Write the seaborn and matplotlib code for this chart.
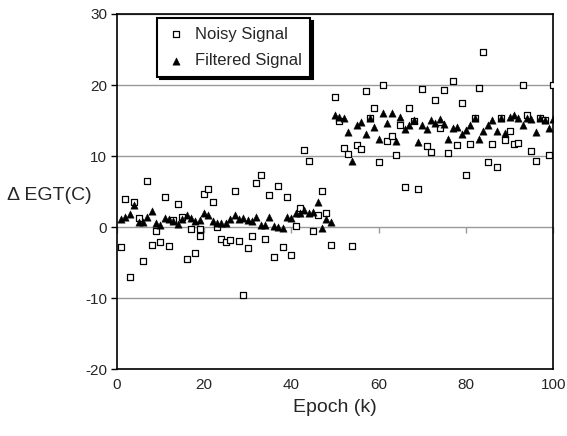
import matplotlib
matplotlib.use("Agg")
import numpy as np
import pandas as pd
import matplotlib.pyplot as plt
import seaborn as sns

# epochs (k) -- the noisy series has two readings at epoch 19
noisy_epoch = list(range(1, 20)) + [19] + list(range(20, 101))
filtered_epoch = list(range(1, 101))

noisy_signal = [
    -2.8, 4.0, -7.0, 3.5, 1.35, -4.7, 6.5, -2.5, -0.6, -2.1,
    4.2, -2.7, 1.0, 3.2, 1.4, -4.5, -0.2, -3.65, -1.3, -0.3,
    4.6, 5.3, 3.6, 0.0, -1.6, -2.15, -1.8, 5.1, -2.0, -9.6,
    -2.95, -1.3, 6.2, 7.4, -1.6, 4.5, -4.2, 5.8, -2.8, 4.2,
    -3.9, 0.1, 2.75, 10.8, 9.25, -0.5, 1.7, 5.1, 2.05, -2.5,
    18.3, 14.9, 11.2, 10.3, -2.7, 11.6, 11.0, 19.1, 15.4, 16.8,
    9.1, 20.05, 12.15, 12.85, 10.2, 14.4, 5.6, 16.7, 14.95, 5.4,
    19.4, 11.4, 10.6, 17.95, 13.9, 19.35, 10.4, 20.6, 11.5, 17.5,
    7.3, 11.7, 15.3, 19.6, 24.6, 9.2, 11.7, 8.4, 15.3, 12.2,
    13.55, 11.7, 11.9, 20.05, 15.8, 10.75, 9.25, 15.4, 15.1, 10.1,
    20.0,
]

filtered_signal = [
    1.16, 1.44, 1.87, 3.08, 0.79, 0.79, 1.49, 2.29, 0.65, 0.32,
    1.35, 1.21, 0.84, 0.42, 1.12, 1.73, 1.3, 0.88, 1.02, 2.05,
    1.73, 0.88, 0.6, 0.6, 0.6, 1.21, 1.73, 1.16, 1.3, 1.02,
    0.84, 1.49, 0.32, 0.37, 1.49, 0.18, 0.0, -0.05, 1.49, 1.26,
    1.96, 2.0, 2.43, 2.05, 2.1, 3.5, -0.05, 1.16, 0.79,
    15.75, 15.5, 15.4, 13.4, 9.3, 14.35, 14.8, 13.1, 15.4, 14.1,
    12.4, 16.0, 14.7, 16.1, 12.1, 15.5, 13.8, 14.35, 15.05, 12.0,
    14.4, 13.8, 15.05, 14.7, 15.2, 14.5, 12.4, 14.0, 14.1, 13.05,
    13.7, 14.35, 15.4, 12.4, 13.55, 14.4, 15.05, 13.5, 15.4, 13.3,
    15.5, 15.75, 15.3, 14.4, 15.4, 15.15, 13.4, 15.4, 15.05, 14.0,
    15.15,
]

x_ticks = [0, 20, 40, 60, 80, 100]
y_ticks = [-20, -10, 0, 10, 20, 30]

sns.set_style("white")
plt.rcParams["font.family"] = ["Liberation Sans", "DejaVu Sans"]
plt.rcParams["axes.unicode_minus"] = False

fig = plt.figure(figsize=(5.67, 4.36), dpi=100)
ax = fig.add_axes([0.2058, 0.153, 0.77, 0.815])

# second axis only to draw the x tick marks on the zero line
ax2 = ax.twiny()
ax2.set_xlim(0, 100)
ax2.set_xticks(x_ticks)
for sp in ax2.spines.values():
    sp.set_visible(False)
ax2.spines["bottom"].set_position(("data", 0))
ax2.xaxis.set_ticks_position("bottom")
ax2.tick_params(axis="x", direction="out", length=4, width=1, color="#999999",
                labelbottom=False, labeltop=False)
ax.set_zorder(ax2.get_zorder() + 1)
ax.patch.set_visible(False)

sns.scatterplot(x=noisy_epoch, y=noisy_signal, marker="s", s=21, color="white",
                edgecolor="black", linewidth=0.9, label="Noisy Signal", ax=ax, zorder=3)
sns.scatterplot(x=filtered_epoch, y=filtered_signal, marker="^", s=28, color="black",
                edgecolor="black", linewidth=0.3, label="Filtered Signal", ax=ax, zorder=4)

ax.set_xlim(0, 100)
ax.set_ylim(-20, 30)
ax.set_xticks(x_ticks)
ax.set_yticks(y_ticks)
ax.yaxis.grid(True, color="#999999", linewidth=1)
ax.xaxis.grid(False)
ax.set_axisbelow(True)
for sp in ax.spines.values():
    sp.set_visible(True)
    sp.set_color("black")
    sp.set_linewidth(1.2)
ax.tick_params(axis="y", direction="out", length=4, width=1, color="black",
               labelsize=11, pad=3, left=True)
ax.tick_params(axis="x", length=0, labelsize=11, pad=6)

ax.set_xlabel("Epoch (k)", fontsize=14)
ax.xaxis.set_label_coords(0.5, -0.085)
ax.set_ylabel("\u0394 EGT(C)", fontsize=14, rotation=0, ha="left", va="center")
ax.yaxis.set_label_coords(-0.252, 0.49)

leg = ax.legend(loc="upper left", bbox_to_anchor=(0.093, 0.988), frameon=True,
                fancybox=False, edgecolor="black", framealpha=1, fontsize=12,
                handletextpad=0.45, labelspacing=0.7, borderpad=0.5,
                handlelength=1.3, borderaxespad=0,
                shadow={"color": "black", "alpha": 1})
leg.get_frame().set_linewidth(1.5)

fig.savefig("out.png", dpi=100, facecolor="white")
